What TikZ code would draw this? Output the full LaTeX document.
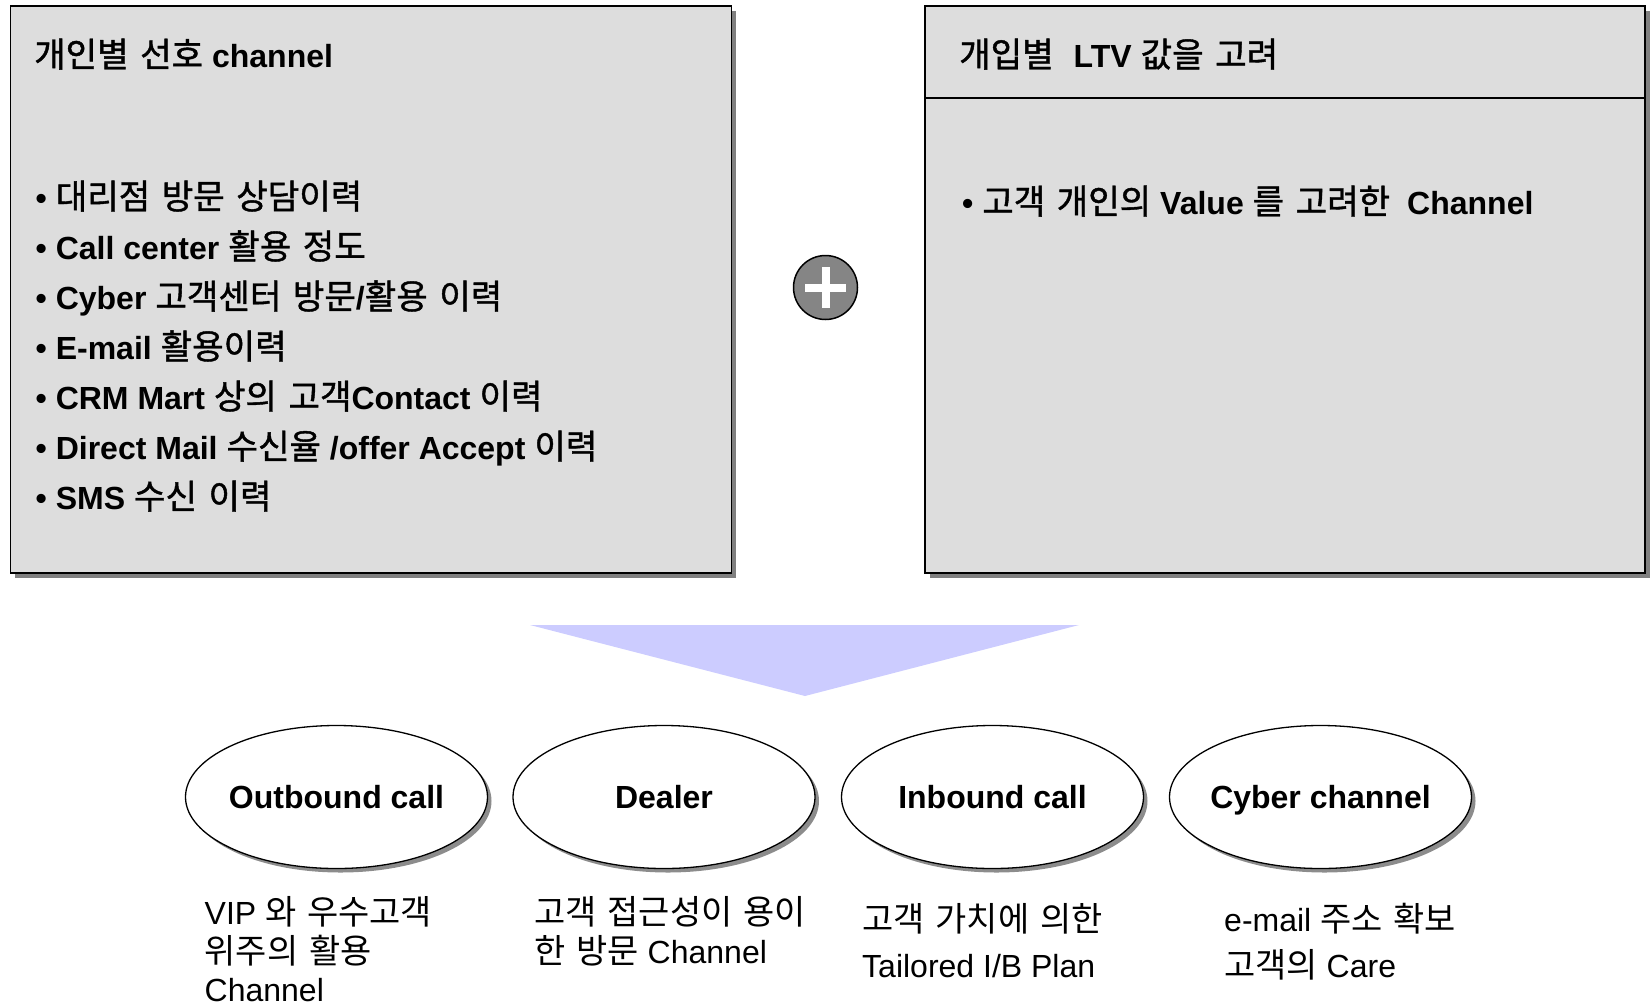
\documentclass[tikz,border=0pt]{standalone}
\usepackage{fontspec}
\setmainfont{Liberation Sans}
\newfontfamily\krfont[Scale=1.06, WordSpace=1.45]{Noto Sans CJK KR}
\newfontfamily\krbfont[Scale=1.07, WordSpace=1.5, FakeBold=1.2]{Noto Sans CJK KR}
\newcommand\hg[1]{{\krfont\mdseries #1}}
\newcommand\hb[1]{{\krbfont\mdseries #1}}
\usetikzlibrary{shapes.geometric,shadows}
\definecolor{panelgray}{HTML}{DDDDDD}
\definecolor{shadegray}{HTML}{808080}
\definecolor{funnelblue}{HTML}{CCCCFF}
\definecolor{plusgray}{HTML}{858585}
\tikzset{
  panel/.style={draw=black, line width=1.6pt, fill=panelgray, anchor=north west,
    drop shadow={shadow xshift=5pt, shadow yshift=-5pt, fill=shadegray, opacity=1}},
  chan/.style={ellipse, draw=black, line width=1.3pt, fill=white,
    minimum width=302pt, minimum height=143pt, inner xsep=-40pt, inner ysep=-10pt,
    text height=23pt, text depth=0pt,
    font=\bfseries\fontsize{32}{38}\selectfont,
    drop shadow={shadow xshift=4pt, shadow yshift=-4pt, fill=black!45, opacity=1}},
  head/.style={anchor=base west, inner sep=0pt, font=\bfseries\fontsize{32}{38}\selectfont},
  item/.style={anchor=base west, inner sep=0pt, font=\bfseries\fontsize{32}{38}\selectfont},
  note/.style={anchor=base west, inner sep=0pt, font=\fontsize{32}{38}\selectfont},
}
\begin{document}
\begin{tikzpicture}[x=1pt,y=-1pt]
\useasboundingbox (0,0) rectangle (1650,1005);

% two input panels
\node[panel, minimum width=721pt, minimum height=567pt] (lbox) at (9.5,5) {};
\node[panel, minimum width=720pt, minimum height=567pt] (rbox) at (924,5) {};
\draw[line width=1.6pt] (rbox.west |- 0,98) -- (rbox.east |- 0,98);

% left panel text
\node[head] (ltitle) at (34,67) {\hb{개인별 선호} channel};
\node[item] (l1) at (35.5,209) {• \hb{대리점 방문 상담이력}};
\node[item] (l2) at (35.5,259) {• Call center \hb{활용 정도}};
\node[item] (l3) at (35.5,309) {• Cyber \hb{고객센터 방문}/\hb{활용 이력}};
\node[item] (l4) at (35.5,359) {• E-mail \hb{활용이력}};
\node[item] (l5) at (35.5,409) {• CRM Mart \hb{상의 고객}Contact \hb{이력}};
\node[item] (l6) at (35.5,459) {• Direct Mail \hb{수신율} /offer Accept \hb{이력}};
\node[item] (l7) at (35.5,509) {• SMS \hb{수신 이력}};

% right panel text
\node[head] (rtitle) at (959,67) {\hb{개입별}\hspace{20pt}LTV \hb{값을 고려}};
\node[item] (r1) at (962,214) {• \hb{고객 개인의} Value \hb{를 고려한}\hspace{17pt}Channel};

% plus sign between the panels
\node[circle, draw=black, line width=1.5pt, fill=plusgray, minimum size=64pt, inner sep=0pt] (plus) at (825.5,287.5) {};
\fill[white] (plus.center) ++(-20.5,-4) rectangle ++(41,8);
\fill[white] (plus.center) ++(-4,-20.5) rectangle ++(8,41);

% funnel
\fill[funnelblue] (530,625) -- (1079,625) -- (805,696) -- cycle;

% channels
\node[chan] (out) at (336.5,797) {Outbound call};
\node[chan] (deal) at (664,797) {Dealer};
\node[chan] (inb) at (992.5,797) {Inbound call};
\node[chan] (cyb) at (1320.5,797) {Cyber channel};

% channel notes
\node[note] (n1a) at (204.5,924) {VIP \hg{와 우수고객}};
\node[note] (n1b) at (204.5,963) {\hg{위주의 활용}};
\node[note] (n1c) at (204.5,1001) {Channel};
\node[note] (n2a) at (534,924) {\hg{고객 접근성이 용이}};
\node[note] (n2b) at (534,963) {\hg{한 방문} Channel};
\node[note] (n3a) at (862,931) {\hg{고객 가치에 의한}};
\node[note] (n3b) at (862,977) {Tailored I/B Plan};
\node[note] (n4a) at (1224,931) {e-mail \hg{주소 확보}};
\node[note] (n4b) at (1224,977) {\hg{고객의} Care};
\end{tikzpicture}
\end{document}
